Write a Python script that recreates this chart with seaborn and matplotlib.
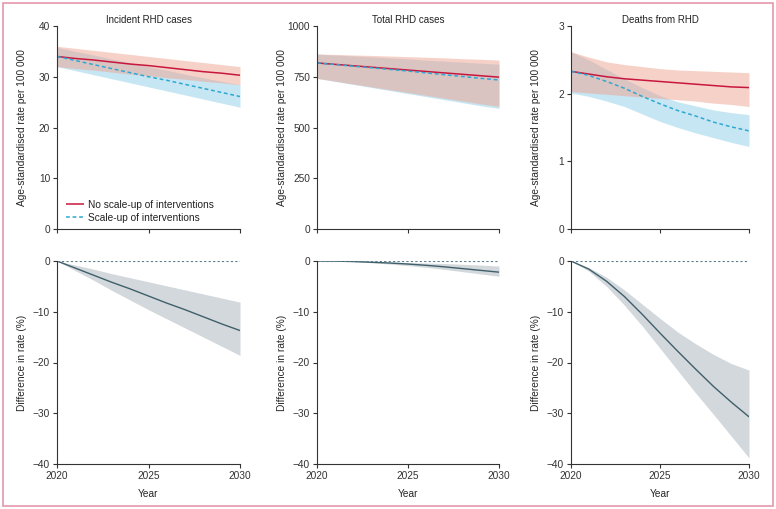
import matplotlib
matplotlib.use("Agg")
import matplotlib.pyplot as plt
from matplotlib.patches import Rectangle
import numpy as np
import pandas as pd
import seaborn as sns

years = [2020, 2021, 2022, 2023, 2024, 2025, 2026, 2027, 2028, 2029, 2030]

panel_titles = ["Incident RHD cases", "Total RHD cases", "Deaths from RHD"]
legend_labels = ["No scale-up of interventions", "Scale-up of interventions"]

# incident RHD cases, rate per 100 000
inc_base = [34.0, 33.6, 33.3, 32.9, 32.5, 32.2, 31.8, 31.4, 31.0, 30.7, 30.3]
inc_base_hi = [36.0, 35.6, 35.2, 34.8, 34.4, 34.0, 33.6, 33.2, 32.8, 32.4, 32.0]
inc_base_lo = [32.0, 31.6, 31.3, 30.9, 30.5, 30.2, 29.8, 29.5, 29.1, 28.8, 28.4]
inc_scale = [34.0, 33.2, 32.4, 31.6, 30.8, 30.0, 29.3, 28.5, 27.7, 26.9, 26.1]
inc_scale_hi = [35.8, 35.0, 34.3, 33.5, 32.8, 32.0, 31.3, 30.5, 29.8, 29.1, 28.4]
inc_scale_lo = [32.0, 31.2, 30.4, 29.6, 28.8, 28.0, 27.2, 26.4, 25.6, 24.8, 24.0]
inc_diff = [0, -1.4, -2.8, -4.2, -5.5, -6.9, -8.3, -9.6, -11.0, -12.4, -13.7]
inc_diff_hi = [0, -0.8, -1.6, -2.5, -3.3, -4.1, -4.9, -5.7, -6.5, -7.3, -8.1]
inc_diff_lo = [0, -1.9, -3.8, -5.8, -7.7, -9.6, -11.4, -13.2, -15.0, -16.8, -18.6]

# total RHD cases
tot_base = [818, 811, 804, 797, 790, 783, 776, 769, 762, 755, 748]
tot_base_hi = [862, 860, 857, 855, 852, 849, 846, 843, 839, 836, 832]
tot_base_lo = [742, 728, 714, 700, 686, 672, 658, 644, 630, 616, 604]
tot_scale = [818, 810, 802, 794, 786, 778, 769, 760, 751, 742, 734]
tot_scale_hi = [862, 857, 853, 848, 843, 838, 832, 827, 822, 817, 812]
tot_scale_lo = [742, 727, 712, 697, 682, 667, 652, 637, 622, 607, 594]
tot_diff = [0, -0.02, -0.1, -0.25, -0.4, -0.6, -0.85, -1.15, -1.5, -1.85, -2.2]
tot_diff_hi = [0, -0.01, -0.05, -0.12, -0.2, -0.3, -0.4, -0.5, -0.65, -0.8, -1.0]
tot_diff_lo = [0, -0.04, -0.15, -0.35, -0.6, -0.9, -1.25, -1.65, -2.1, -2.55, -3.0]

# deaths from RHD
dth_base = [2.33, 2.29, 2.25, 2.22, 2.20, 2.18, 2.16, 2.14, 2.12, 2.10, 2.09]
dth_base_hi = [2.62, 2.54, 2.47, 2.43, 2.40, 2.37, 2.35, 2.34, 2.33, 2.32, 2.31]
dth_base_lo = [2.03, 2.01, 1.99, 1.97, 1.95, 1.93, 1.91, 1.89, 1.86, 1.84, 1.81]
dth_scale = [2.33, 2.27, 2.18, 2.08, 1.96, 1.85, 1.75, 1.67, 1.58, 1.51, 1.45]
dth_scale_hi = [2.62, 2.50, 2.36, 2.22, 2.09, 1.97, 1.88, 1.82, 1.76, 1.72, 1.69]
dth_scale_lo = [2.01, 1.96, 1.89, 1.81, 1.70, 1.59, 1.50, 1.42, 1.35, 1.28, 1.22]
dth_diff = [0, -1.6, -4.0, -7.0, -10.5, -14.2, -17.8, -21.3, -24.7, -27.8, -30.7]
dth_diff_hi = [0, -1.3, -3.2, -5.7, -8.5, -11.3, -14.0, -16.3, -18.4, -20.2, -21.5]
dth_diff_lo = [0, -2.0, -5.0, -8.7, -12.8, -17.2, -21.6, -26.0, -30.2, -34.5, -38.8]

top_data = [
    (inc_base, inc_base_lo, inc_base_hi, inc_scale, inc_scale_lo, inc_scale_hi),
    (tot_base, tot_base_lo, tot_base_hi, tot_scale, tot_scale_lo, tot_scale_hi),
    (dth_base, dth_base_lo, dth_base_hi, dth_scale, dth_scale_lo, dth_scale_hi),
]
bottom_data = [
    (inc_diff, inc_diff_lo, inc_diff_hi),
    (tot_diff, tot_diff_lo, tot_diff_hi),
    (dth_diff, dth_diff_lo, dth_diff_hi),
]
top_ticks = [[0, 10, 20, 30, 40], [0, 250, 500, 750, 1000], [0, 1, 2, 3]]
diff_ticks = [0, -10, -20, -30, -40]

red = "#c8173f"
red_fill = "#efa493"
blue = "#2fa8d2"
blue_fill = "#8fcfe9"
dark = "#3f5f6b"
grey_fill = "#d3d8dc"
axis_col = "#333333"

sns.set_style("ticks")
plt.rcParams["font.family"] = ["Liberation Sans Narrow", "Liberation Sans", "DejaVu Sans"]
plt.rcParams["font.size"] = 7.3
plt.rcParams["axes.edgecolor"] = axis_col
plt.rcParams["xtick.color"] = axis_col
plt.rcParams["ytick.color"] = axis_col
plt.rcParams["text.color"] = "#222222"

fig = plt.figure(figsize=(7.76, 5.09), dpi=100)

lefts = [57, 317, 571]
widths = [183, 182, 178]
W, H = 776, 509

for i in range(3):
    ax = fig.add_axes([lefts[i] / W, 1 - 229 / H, widths[i] / W, 203 / H])
    b, blo, bhi, s, slo, shi = top_data[i]
    df = pd.DataFrame({"year": years + years, "rate": b + s,
                       "scenario": [legend_labels[0]] * len(years) + [legend_labels[1]] * len(years)})
    ax.fill_between(years, slo, shi, color=blue_fill, alpha=0.5, lw=0)
    ax.fill_between(years, blo, bhi, color=red_fill, alpha=0.5, lw=0)
    sns.lineplot(data=df, x="year", y="rate", hue="scenario", style="scenario",
                 palette=[red, blue], dashes=[(1, 0), (2.5, 1.8)], linewidth=1.1,
                 ax=ax, legend=(i == 0))
    ax.set_xlim(2020, 2030)
    ax.set_ylim(top_ticks[i][0], top_ticks[i][-1])
    ax.set_yticks(top_ticks[i])
    ax.set_xticks([2020, 2025, 2030])
    ax.set_xticklabels([])
    ax.set_xlabel("")
    ax.set_ylabel("Age-standardised rate per 100 000", fontsize=7.3)
    ax.yaxis.set_label_coords(-30 / widths[i], 0.5)
    ax.set_title(panel_titles[i], fontsize=7.0, pad=2)
    ax.tick_params(length=3, width=0.8, labelsize=7.3, pad=2)
    for sp in ["left", "bottom"]:
        ax.spines[sp].set_linewidth(0.8)
    sns.despine(ax=ax)
    if i == 0:
        ax.legend(frameon=False, loc="lower left", bbox_to_anchor=(0.0, -0.015),
                  fontsize=7.3, handlelength=1.8, handletextpad=0.4, labelspacing=0.3)

    ax2 = fig.add_axes([lefts[i] / W, 1 - 464 / H, widths[i] / W, 203 / H])
    d, dlo, dhi = bottom_data[i]
    ax2.fill_between(years, dlo, dhi, color=grey_fill, lw=0)
    sns.lineplot(x=years, y=d, color=dark, linewidth=1.0, ax=ax2)
    ax2.plot([2020, 2030], [0, 0], color="#5b7d8a", lw=0.8, ls=(0, (2, 2)))
    ax2.set_xlim(2020, 2030)
    ax2.set_ylim(-40, 0)
    ax2.set_yticks(diff_ticks)
    ax2.set_xticks([2020, 2025, 2030])
    ax2.set_xlabel("Year", fontsize=7.3, labelpad=6)
    ax2.set_ylabel("Difference in rate (%)", fontsize=7.3)
    ax2.yaxis.set_label_coords(-30 / widths[i], 0.5)
    ax2.tick_params(length=3, width=0.8, labelsize=7.3, pad=2)
    for sp in ["left", "bottom"]:
        ax2.spines[sp].set_linewidth(0.8)
    sns.despine(ax=ax2)

fig.patches.append(Rectangle((3 / W, 3 / H), 770 / W, 503 / H, transform=fig.transFigure,
                             fill=False, edgecolor="#e597ad", linewidth=1.2))

fig.savefig("out.png", dpi=100)
